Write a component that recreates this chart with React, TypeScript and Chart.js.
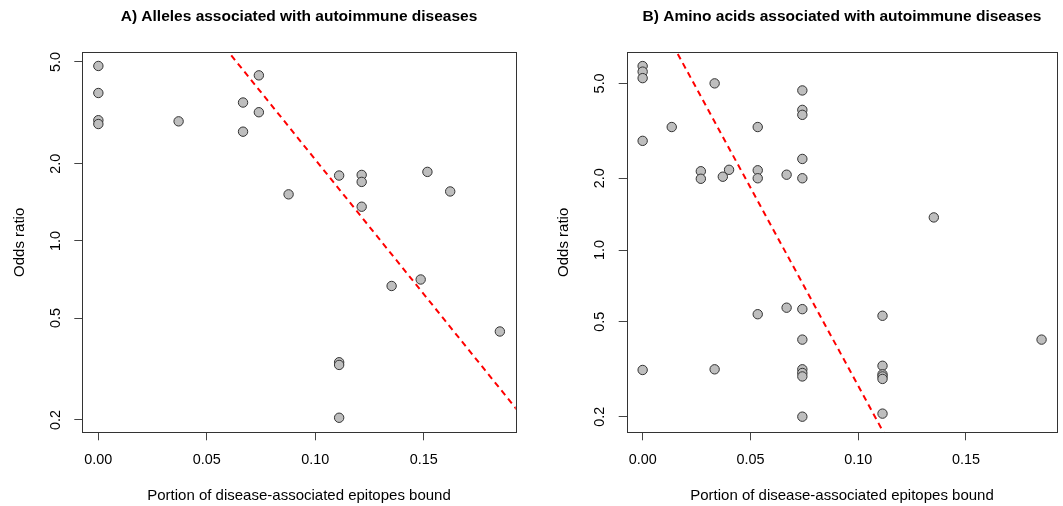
import React, { useEffect, useRef } from "react";
import { Chart, registerables } from "chart.js";

Chart.register(...registerables);

// ---- tick values ----
const xTickValues = [0, 0.05, 0.1, 0.15];
const yTickValues = [0.2, 0.5, 1, 2, 5];

// ---- Panel A: alleles ----
const allelesX = [0, 0, 0, 0, 0.037, 0.0667, 0.0667, 0.074, 0.074, 0.0877, 0.111, 0.1214, 0.1214, 0.1214, 0.1517, 0.1622, 0.1352, 0.1486, 0.1851, 0.111, 0.111, 0.111];
const allelesY = [4.82, 3.78, 2.96, 2.86, 2.93, 3.47, 2.67, 4.43, 3.18, 1.52, 1.8, 1.81, 1.7, 1.36, 1.86, 1.56, 0.667, 0.707, 0.443, 0.336, 0.328, 0.204];
const allelesFitX = [0.04, 0.2];
const allelesFitY = [8.87, 0.185];

// ---- Panel B: amino acids ----
const aminoX = [0, 0, 0, 0, 0.0135, 0.0334, 0.027, 0.027, 0.0372, 0.0401, 0.0534, 0.0534, 0.0534, 0.0668, 0.0741, 0.0741, 0.0741, 0.0741, 0.0741, 0.1351, 0.0534, 0.0668, 0.0741, 0.0741, 0.0741, 0.0741, 0.0741, 0.0741, 0, 0.0334, 0.1113, 0.1113, 0.1113, 0.1113, 0.1113, 0.1113, 0.1851];
const aminoY = [5.91, 5.6, 5.26, 2.87, 3.28, 5.0, 2.14, 1.99, 2.03, 2.17, 3.28, 2.16, 2.0, 2.07, 4.67, 3.87, 3.69, 2.41, 2.0, 1.37, 0.538, 0.573, 0.565, 0.421, 0.316, 0.305, 0.295, 0.2, 0.314, 0.316, 0.53, 0.327, 0.301, 0.295, 0.288, 0.206, 0.421];
const aminoFitX = [0, 0.13];
const aminoFitY = [12.4, 0.0855];

const titleA = "A) Alleles associated with autoimmune diseases";
const titleB = "B) Amino acids associated with autoimmune diseases";
const xLabel = "Portion of disease-associated epitopes bound";
const yLabel = "Odds ratio";

const FONT = "'Liberation Sans', Arial, Helvetica, sans-serif";

const boxPlugin = {
  id: "rbox",
  afterDatasetsDraw(chart: any) {
    const { ctx, chartArea: a } = chart;
    ctx.save();
    ctx.strokeStyle = "#333";
    ctx.lineWidth = 1;
    const l = Math.round(a.left) + 0.5;
    const t = Math.round(a.top) + 0.5;
    const r = Math.round(a.right) + 0.5;
    const b = Math.round(a.bottom) + 0.5;
    ctx.strokeRect(l, t, r - l, b - t);
    ctx.restore();
  },
};

type PanelProps = {
  xs: number[];
  ys: number[];
  fitX: number[];
  fitY: number[];
  title: string;
  yMin: number;
  yMax: number;
  width: number;
  padRight: number;
  yAxisWidth: number;
  yTitlePad: number;
};

function Panel(p: PanelProps) {
  const ref = useRef<HTMLCanvasElement>(null);
  useEffect(() => {
    if (!ref.current) return;
    const pts = p.xs.map((x, i) => ({ x, y: p.ys[i] }));
    const fit = p.fitX.map((x, i) => ({ x, y: p.fitY[i] }));
    const grid = {
      drawOnChartArea: false,
      drawTicks: true,
      tickLength: 8,
      color: "#444",
      lineWidth: 1,
    };
    const chart = new Chart(ref.current, {
      type: "scatter",
      data: {
        datasets: [
          {
            data: pts,
            pointRadius: 4.7,
            pointBackgroundColor: "#BEBEBE",
            pointBorderColor: "#333",
            pointBorderWidth: 1,
            showLine: false,
          },
          {
            data: fit,
            showLine: true,
            borderColor: "#FF0000",
            borderWidth: 2,
            borderDash: [6, 4.5],
            pointRadius: 0,
            fill: false,
          },
        ],
      },
      options: {
        responsive: false,
        animation: false,
        events: [],
        layout: { padding: { left: 0, right: p.padRight, top: 0, bottom: 0 } },
        plugins: {
          legend: { display: false },
          tooltip: { enabled: false },
          title: {
            display: true,
            text: p.title,
            fullSize: false,
            color: "#000",
            font: { family: FONT, size: 15.5, weight: "bold" },
            padding: { top: 7.2, bottom: 26.5 },
          },
        },
        scales: {
          x: {
            type: "linear",
            position: "bottom",
            min: -0.0074,
            max: 0.1924,
            afterBuildTicks: (s: any) => {
              s.ticks = xTickValues.map((v) => ({ value: v }));
            },
            afterFit: (s: any) => {
              s.height = 73.7;
            },
            ticks: {
              callback: (v: any) => Number(v).toFixed(2),
              color: "#000",
              font: { family: FONT, size: 14.4 },
              padding: 11,
              maxRotation: 0,
              autoSkip: false,
            },
            grid,
            border: { display: false },
            title: {
              display: true,
              text: xLabel,
              color: "#000",
              font: { family: FONT, size: 15 },
              padding: { top: 0, bottom: 1 },
            },
          },
          y: {
            type: "logarithmic",
            position: "left",
            min: p.yMin,
            max: p.yMax,
            afterBuildTicks: (s: any) => {
              s.ticks = yTickValues.map((v) => ({ value: v }));
            },
            afterFit: (s: any) => {
              s.width = p.yAxisWidth;
            },
            ticks: {
              callback: (v: any) => Number(v).toFixed(1),
              color: "#000",
              font: { family: FONT, size: 14.4 },
              minRotation: 90,
              maxRotation: 90,
              crossAlign: "center",
              padding: 8.6,
              autoSkip: false,
            },
            grid,
            border: { display: false },
            title: {
              display: true,
              text: yLabel,
              color: "#000",
              font: { family: FONT, size: 15 },
              padding: { top: p.yTitlePad, bottom: 0 },
            },
          },
        },
      } as any,
      plugins: [boxPlugin],
    });
    return () => chart.destroy();
  }, []);
  return (
    <canvas
      ref={ref}
      width={p.width}
      height={506}
      style={{ display: "block", width: p.width, height: 506 }}
    />
  );
}

export default function App() {
  return (
    <div
      style={{
        position: "absolute",
        left: 0,
        top: 0,
        width: 1063,
        height: 506,
        background: "#fff",
        overflow: "hidden",
      }}
    >
      <div style={{ position: "absolute", left: 0, top: 0 }}>
        <Panel
          xs={allelesX}
          ys={allelesY}
          fitX={allelesFitX}
          fitY={allelesFitY}
          title={titleA}
          yMin={0.179}
          yMax={5.45}
          width={531}
          padRight={15.3}
          yAxisWidth={82.3}
          yTitlePad={10.5}
        />
      </div>
      <div style={{ position: "absolute", left: 531, top: 0 }}>
        <Panel
          xs={aminoX}
          ys={aminoY}
          fitX={aminoFitX}
          fitY={aminoFitY}
          title={titleB}
          yMin={0.172}
          yMax={6.75}
          width={532}
          padRight={3.7}
          yAxisWidth={95.7}
          yTitlePad={24}
        />
      </div>
    </div>
  );
}
